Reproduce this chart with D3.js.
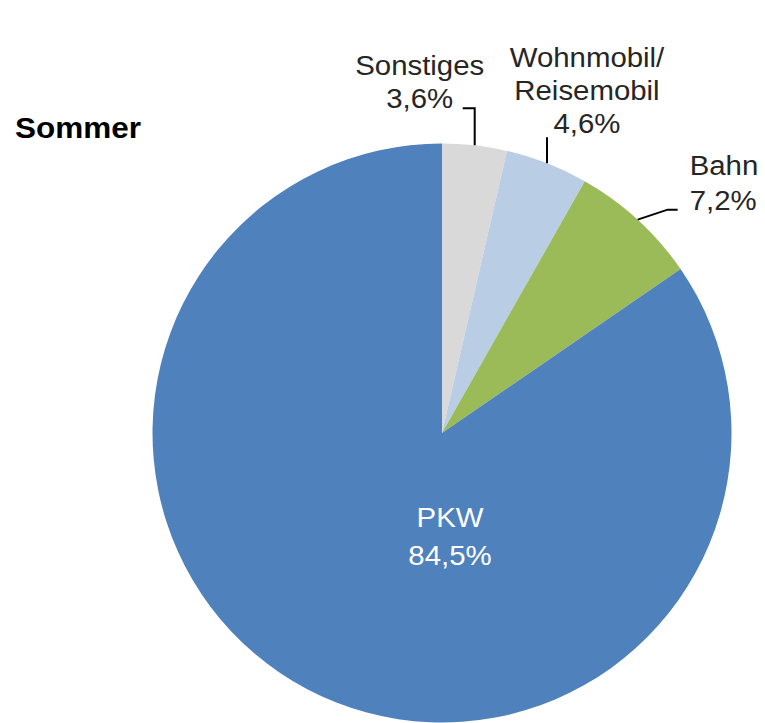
<!DOCTYPE html>
<html>
<head>
<meta charset="utf-8">
<script src="https://d3js.org/d3.v7.min.js"></script>
<style>
  body { margin: 0; background: white; }
  text { font-family: "Liberation Sans", Arial, sans-serif; }
</style>
</head>
<body>
<svg id="chart" width="765" height="723"></svg>
<script>
  // data
  var categories = ["Sonstiges", "Wohnmobil/\nReisemobil", "Bahn", "PKW"];
  var values = [3.6, 4.6, 7.2, 84.5];
  var valueLabels = ["3,6%", "4,6%", "7,2%", "84,5%"];
  var colors = ["#D9D9D9", "#B9CDE5", "#9BBB59", "#4F81BD"];
  var title = "Sommer";

  var cx = 442, cy = 433, radius = 289.5;
  var fs = 28, sx = 1.05;

  var svg = d3.select("#chart");

  svg.append("text")
    .attr("transform", "translate(15,138) scale(1.05,1)")
    .attr("font-size", 30)
    .attr("font-weight", "bold")
    .attr("fill", "#000")
    .text(title);

  var data = categories.map(function(c, i) {
    return {name: c, value: values[i], label: valueLabels[i], color: colors[i]};
  });

  var pie = d3.pie().sort(null).value(function(d) { return d.value; });
  var arc = d3.arc().innerRadius(0).outerRadius(radius);
  var edge = d3.arc().innerRadius(radius).outerRadius(radius);

  var g = svg.append("g").attr("transform", "translate(" + cx + "," + cy + ")");
  var arcs = pie(data);

  g.selectAll("path.slice")
    .data(arcs)
    .enter().append("path")
    .attr("class", "slice")
    .attr("d", arc)
    .attr("fill", function(d) { return d.data.color; });

  function addLabel(x, y, lines, anchor, color, lh) {
    var t = svg.append("text")
      .attr("transform", "translate(" + x + "," + y + ") scale(" + sx + ",1)")
      .attr("font-size", fs)
      .attr("fill", color)
      .attr("text-anchor", anchor);
    lines.forEach(function(l, i) {
      t.append("tspan").attr("x", 0).attr("y", i * lh).text(l);
    });
  }

  function leader(pts) {
    svg.append("path")
      .attr("d", d3.line()(pts))
      .attr("fill", "none")
      .attr("stroke", "#000")
      .attr("stroke-width", 2);
  }

  arcs.forEach(function(a, i) {
    var c = edge.centroid(a);
    var px = cx + c[0], py = cy + c[1];
    var lines = a.data.name.split("\n").concat([a.data.label]);
    if (i === 0) {
      leader([[px, py], [px, py - 37], [px - 12, py - 37]]);
      addLabel(px - 55, py - 70, lines, "middle", "#262626", 33);
    } else if (i === 1) {
      leader([[px, py], [px, py - 26]]);
      addLabel(px + 40, py - 96, lines, "middle", "#262626", 33);
    } else if (i === 2) {
      leader([[px, py], [px + 30, py - 10], [px + 40, py - 10]]);
      addLabel(px + 52, py - 45, lines, "start", "#262626", 35);
    } else {
      addLabel(cx + 8, cy + 94, lines, "middle", "#FFFFFF", 38);
    }
  });
</script>
</body>
</html>
